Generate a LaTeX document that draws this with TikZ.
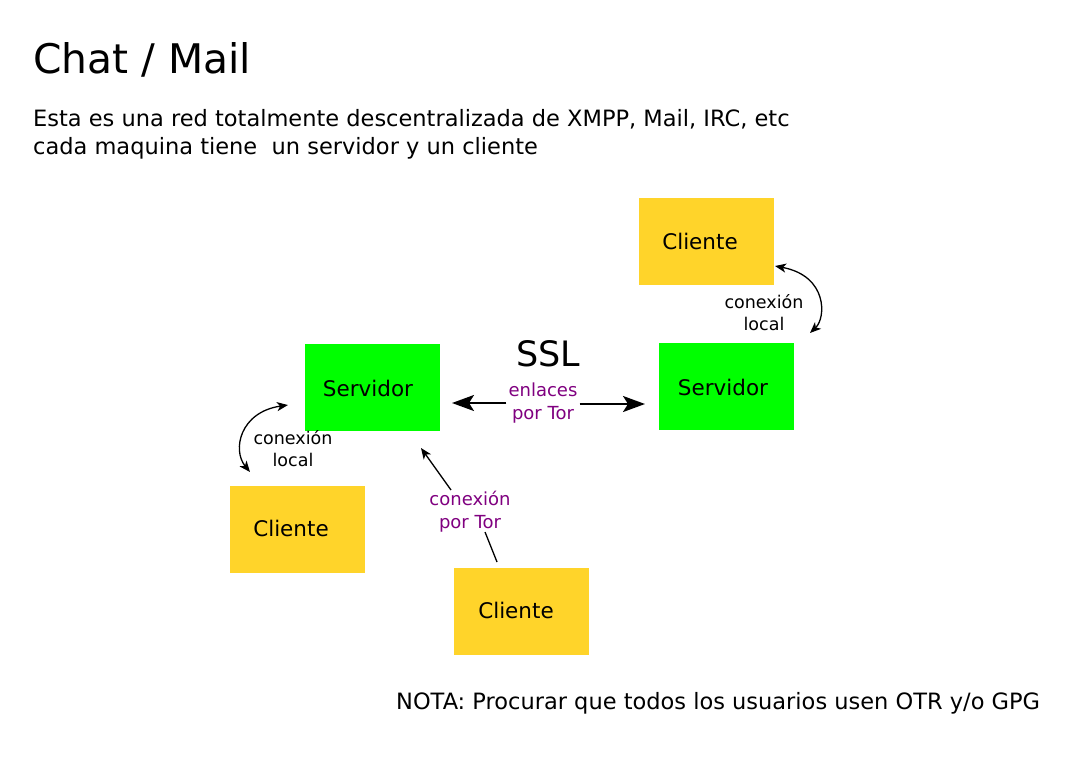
\documentclass[tikz,border=0pt]{standalone}
\usepackage{fontspec}
\setmainfont{DejaVu Sans}
\usetikzlibrary{arrows.meta}
\definecolor{gold}{RGB}{255,212,42}
\definecolor{lgreen}{RGB}{0,255,0}
\definecolor{tor}{RGB}{128,0,128}
\tikzset{
  box/.style={rectangle,inner sep=0pt,minimum width=135pt,minimum height=87pt,anchor=north west},
  cli/.style={box,fill=gold},
  srv/.style={box,fill=lgreen},
  lbl/.style={font=\fontsize{21.5}{26}\selectfont,text=black},
  small/.style={font=\fontsize{17.5}{22}\selectfont,align=center},
  torlbl/.style={align=center,text=tor,font=\fontsize{18}{23}\selectfont},
  bigarrow/.style={line width=2pt,-{Stealth[length=22pt,width=16pt,inset=5pt]}},
  smallarrow/.style={line width=1.3pt,-{Stealth[length=11pt,width=9pt,inset=3pt]}},
  smallarrows/.style={line width=1.3pt,{Stealth[length=11pt,width=9pt,inset=3pt]}-{Stealth[length=11pt,width=9pt,inset=3pt]}}
}
\begin{document}
\begin{tikzpicture}[x=1pt,y=-1pt]
\useasboundingbox[fill=white] (0,0) rectangle (1076,761);
% title and text
\node[anchor=base west,inner sep=0pt,font=\fontsize{40.8}{46}\selectfont] (title) at (33,73) {Chat / Mail};
\node[anchor=base west,inner sep=0pt,font=\fontsize{22.5}{26}\selectfont] (l1) at (33,126) {Esta es una red totalmente descentralizada de XMPP, Mail, IRC, etc};
\node[anchor=base west,inner sep=0pt,font=\fontsize{22.5}{26}\selectfont] (l2) at (33,154) {cada maquina tiene\ \ un servidor y un cliente};
% boxes
\node[cli] (c1) at (639,198) {};
\node[lbl] (c1t) at (700,241) {Cliente};
\node[srv] (s1) at (305,344) {};
\node[lbl] (s1t) at (368,388) {Servidor};
\node[srv] (s2) at (659,343) {};
\node[lbl] (s2t) at (723,387) {Servidor};
\node[cli] (c2) at (230,486) {};
\node[lbl] (c2t) at (291,528) {Cliente};
\node[cli] (c3) at (454,568) {};
\node[lbl] (c3t) at (516,610) {Cliente};
% SSL link
\node[font=\fontsize{35}{40}\selectfont] (ssl) at (548,354) {SSL};
\node[torlbl,inner sep=2pt] (enl) at (543,403) {enlaces\\por Tor};
\coordinate (aL) at (452,403);
\coordinate (aR) at (645,404);
\draw[bigarrow] (enl.west |- aL) -- (aL);
\draw[bigarrow] (enl.east |- aR) -- (aR);
% left local
\node[small] (ll) at (293,449) {conexión\\local};
\coordinate (l1a) at (288,405);
\coordinate (l1b) at (250,472);
\draw[smallarrows] (l1a) .. controls (240,412) and (232,450) .. (l1b);
% right local
\node[small] (rl) at (764,313) {conexión\\local};
\coordinate (r1a) at (775,266);
\coordinate (r1b) at (810,333);
\draw[smallarrows] (r1a) .. controls (828,276) and (826,318) .. (r1b);
% tor connection
\node[torlbl,inner sep=2pt] (ct) at (470,512) {conexión\\por Tor};
\coordinate (t1) at (421,448);
\coordinate (t2) at (497,562);
\draw[smallarrow] (451,490) -- (t1);
\draw[line width=1.3pt] (485,532) -- (t2);
% note
\node[anchor=base west,inner sep=0pt,font=\fontsize{22.5}{26}\selectfont] (nota) at (396,709) {NOTA: Procurar que todos los usuarios usen OTR y/o GPG};
\end{tikzpicture}
\end{document}
